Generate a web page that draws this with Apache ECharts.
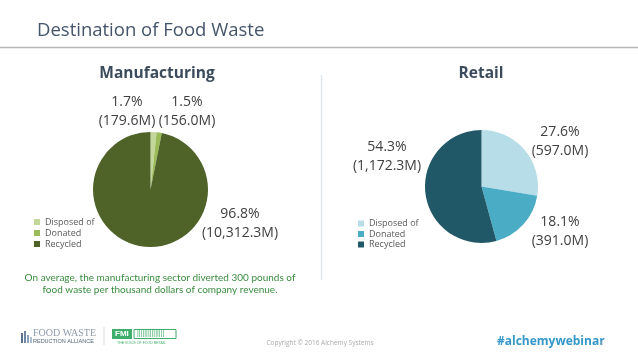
<!DOCTYPE html>
<html>
<head>
<meta charset="utf-8">
<script src="https://cdn.jsdelivr.net/npm/echarts@6/dist/echarts.min.js"></script>
<style>
html,body{margin:0;padding:0;background:#fff;}
#chart{width:638px;height:359px;}
</style>
</head>
<body>
<div id="chart"></div>
<script>
// ---- data ----
var categories = ['Disposed of', 'Donated', 'Recycled'];
var mfgValues = [179.6, 156.0, 10312.3];      // millions of pounds
var mfgPercents = [1.7, 1.5, 96.8];
var retailValues = [597.0, 391.0, 1172.3];
var retailPercents = [27.6, 18.1, 54.3];

// ---- styling / layout ----
var mfgColors = ['#c4d79b', '#9bbb59', '#4f6228'];
var retailColors = ['#b7dde8', '#4bacc6', '#215868'];
var mfgLabelPos = [[127, 112], [187, 112], [240, 224]];
var retailLabelPos = [[560, 142], [560, 232], [387, 157]];

function fmt(v) {
  var s = v.toFixed(1).split('.');
  s[0] = s[0].replace(/\B(?=(\d{3})+(?!\d))/g, ',');
  return s.join('.');
}
function buildData(vals, pcts, colors, prefix) {
  return categories.map(function (c, i) {
    return { name: prefix + c, value: vals[i], pct: pcts[i], itemStyle: { color: colors[i] } };
  });
}
var mfgData = buildData(mfgValues, mfgPercents, mfgColors, '');
var retailData = buildData(retailValues, retailPercents, retailColors, 'R:');

var labelStyle = {
  show: true,
  color: '#404040',
  fontFamily: 'Open Sans',
  fontSize: 14,
  lineHeight: 19,
  align: 'center',
  formatter: function (p) { return p.data.pct.toFixed(1) + '%\n(' + fmt(p.value) + 'M)'; }
};
function layoutFn(pos) {
  return function (p) {
    var q = pos[p.dataIndex];
    return { x: q[0], y: q[1], align: 'center', verticalAlign: 'middle' };
  };
}
var legendText = { color: '#595959', fontSize: 9, fontFamily: 'Open Sans', lineHeight: 10 };

var chart = echarts.init(document.getElementById('chart'), null, { renderer: 'canvas' });
chart.setOption({
  animation: false,
  backgroundColor: '#ffffff',
  legend: [
    { data: categories, orient: 'vertical', left: 29, top: 212, itemWidth: 6, itemHeight: 6,
      itemGap: 1, icon: 'rect', textStyle: legendText, selectedMode: false },
    { data: categories.map(function (c) { return 'R:' + c; }), orient: 'vertical', left: 353, top: 213.5,
      itemWidth: 6, itemHeight: 6, itemGap: 0.5, icon: 'rect', textStyle: legendText, selectedMode: false,
      formatter: function (n) { return n.replace(/^R:/, ''); } }
  ],
  series: [
    { type: 'pie', center: [150.5, 189.5], radius: 57.5, startAngle: 90, clockwise: true,
      data: mfgData, label: labelStyle, labelLine: { show: false }, labelLayout: layoutFn(mfgLabelPos),
      itemStyle: { borderWidth: 0 }, emphasis: { disabled: true } },
    { type: 'pie', center: [481.5, 186.5], radius: 56.5, startAngle: 90, clockwise: true,
      data: retailData, label: labelStyle, labelLine: { show: false }, labelLayout: layoutFn(retailLabelPos),
      itemStyle: { borderWidth: 0 }, emphasis: { disabled: true } }
  ],
  graphic: [
    { type: 'text', x: 37, y: 21, style: { text: 'Destination of Food Waste', fill: '#44546a',
      font: '18.5px "Open Sans"' } },
    { type: 'text', x: 157, y: 66, style: { text: 'Manufacturing', fill: '#3b4b5c',
      font: 'bold 15.5px "Open Sans"', textAlign: 'center' } },
    { type: 'text', x: 481, y: 66, style: { text: 'Retail', fill: '#3b4b5c',
      font: 'bold 15.5px "Open Sans"', textAlign: 'center' } },
    { type: 'line', shape: { x1: 0, y1: 47.5, x2: 638, y2: 47.5 }, style: { stroke: '#b8b8b8', lineWidth: 1.5 } },
    { type: 'line', shape: { x1: 321.5, y1: 75, x2: 321.5, y2: 280 }, style: { stroke: '#dde5ef', lineWidth: 1.5 } },
    { type: 'text', x: 160, y: 272, style: {
      text: 'On average, the manufacturing sector diverted 300 pounds of\nfood waste per thousand dollars of company revenue.',
      fill: '#3a8c3f', font: '10px Lato', textAlign: 'center', lineHeight: 12 } },
    // footer
    { type: 'text', x: 320, y: 340, style: { text: 'Copyright \u00a9 2016 Alchemy Systems', fill: '#aaaaaa',
      font: '6.5px "Open Sans"', textAlign: 'center' } },
    { type: 'text', x: 497, y: 336, style: { text: '#alchemywebinar', fill: '#3497c9',
      font: 'bold 12px "Open Sans"' } },
    { type: 'text', x: 600, y: 340, style: { text: '8', fill: '#bbbbbb', font: '6px "Open Sans"' } },
    // logo approximations
    { type: 'rect', shape: { x: 21, y: 333, width: 2, height: 10 }, style: { fill: '#5b6f8c' } },
    { type: 'rect', shape: { x: 24, y: 331, width: 2, height: 12 }, style: { fill: '#7086a3' } },
    { type: 'rect', shape: { x: 27, y: 335, width: 2, height: 8 }, style: { fill: '#8fa2bb' } },
    { type: 'rect', shape: { x: 30, y: 337, width: 2, height: 6 }, style: { fill: '#b0bfd0' } },
    { type: 'text', x: 33, y: 328, style: { text: 'FOOD WASTE', fill: '#8e9aab', font: '10px "Liberation Serif"' } },
    { type: 'text', x: 33, y: 338.5, style: { text: 'REDUCTION ALLIANCE', fill: '#55647a', font: '5.5px "Liberation Sans"' } },
    { type: 'line', shape: { x1: 104, y1: 327, x2: 104, y2: 345 }, style: { stroke: '#dddddd', lineWidth: 1 } },
    { type: 'rect', shape: { x: 112, y: 329, width: 20, height: 10 }, style: { fill: '#3fae6a' } },
    { type: 'text', x: 115, y: 330, style: { text: 'FMI', fill: '#ffffff', font: 'bold 8px "Liberation Sans"' } },
    { type: 'rect', shape: { x: 134, y: 329.5, width: 42, height: 9 }, style: { fill: 'none', stroke: '#3fae6a', lineWidth: 1 } },
    { type: 'text', x: 137, y: 330, style: { text: '|||||||||||||||', fill: '#3fae6a', font: '7px "Liberation Sans"' } },
    { type: 'text', x: 117, y: 341, style: { text: 'THE VOICE OF FOOD RETAIL', fill: '#3fae6a', font: '3.5px "Liberation Sans"' } }
  ]
});
</script>
</body>
</html>
